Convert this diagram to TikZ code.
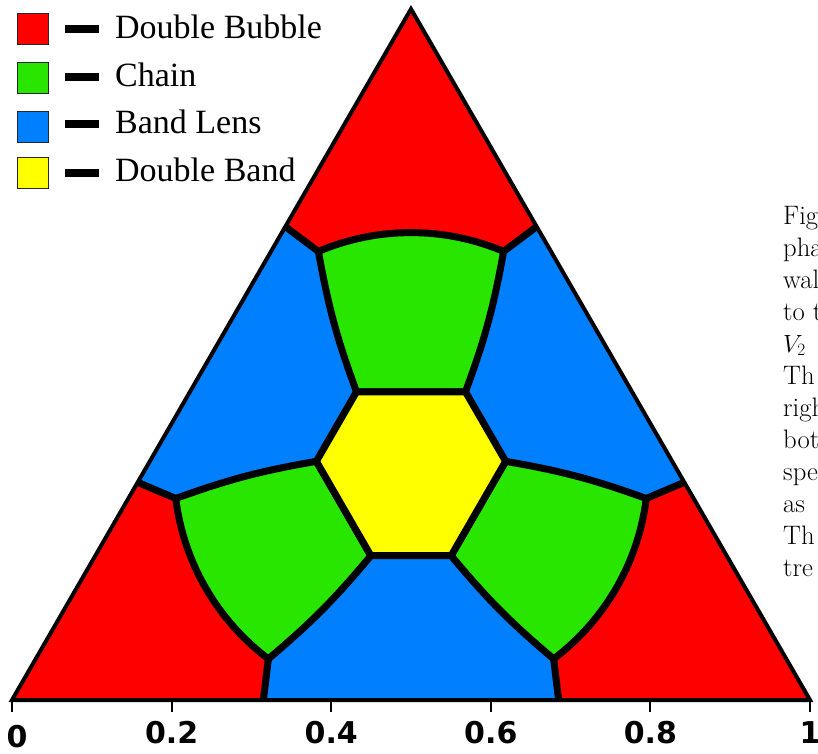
\documentclass[tikz,border=0pt]{standalone}
\usepackage{fontspec}
\usepackage{tikz}
\usetikzlibrary{calc}
\newfontfamily\legendfont{Liberation Serif}
\newfontfamily\axisfont{DejaVu Sans}
\definecolor{dbred}{RGB}{255,0,0}
\definecolor{chgreen}{RGB}{40,230,0}
\definecolor{blblue}{RGB}{0,128,255}
\definecolor{dbyellow}{RGB}{255,255,0}
\definecolor{keyedge}{RGB}{40,40,40}
\tikzset{
  wall/.style={line width=7pt, line join=round, line cap=round, color=black},
  triframe/.style={line width=4pt, line join=miter, color=black},
  legbox/.style={rectangle, draw=keyedge, fill=#1, minimum size=31pt,
    inner sep=0pt, line width=1.5pt},
  legdash/.style={line width=8pt, color=black},
  legtext/.style={anchor=base west, inner sep=0pt,
    font=\legendfont\fontsize{34}{40}\selectfont},
  axistick/.style={line width=2pt, color=black},
  ticklabel/.style={inner sep=0pt, font=\axisfont\bfseries\fontsize{30}{35}\selectfont},
  captext/.style={anchor=base west, align=left, inner sep=0pt,
    font=\fontsize{26.7}{32}\selectfont}
}

\begin{document}
\begin{tikzpicture}[x=1pt, y=1pt]
  \useasboundingbox (-411,-283.4) rectangle (407,469.6);
  \clip (-411,-283.4) rectangle (407,469.6);
  % Triangle and wall ends on its sides
  \coordinate (top) at (0,460.6);
  \coordinate (bl) at (-399,-230.4);
  \coordinate (br) at (399,-230.4);
  \coordinate (eL1) at ($(top)!0.315!(bl)$);
  \coordinate (eL2) at ($(bl)!0.315!(top)$);
  \coordinate (eB1) at ($(bl)!0.315!(br)$);
  \coordinate (eB2) at ($(br)!0.315!(bl)$);
  \coordinate (eR1) at ($(br)!0.315!(top)$);
  \coordinate (eR2) at ($(top)!0.315!(br)$);
  % Double Bubble corners
  \fill[dbred] (top) -- (bl) -- (br) -- cycle;
  % Band Lens
  \fill[blblue] (eR2) -- (67:237) to[bend left=5] (55:95) -- (5:95)
    to[bend left=5] (353:237) -- (eR1) -- cycle;
  \fill[blblue] (eB2) -- (307:237) to[bend left=5] (295:95) -- (245:95)
    to[bend left=5] (233:237) -- (eB1) -- cycle;
  \fill[blblue] (eL2) -- (187:237) to[bend left=5] (175:95) -- (125:95)
    to[bend left=5] (113:237) -- (eL1) -- cycle;
  % Chain
  \filldraw[wall, fill=chgreen] (55:95) -- (125:95) to[bend left=5] (113:237)
    arc[start angle=113, end angle=67, radius=237] to[bend left=5] (55:95) -- cycle;
  \filldraw[wall, fill=chgreen] (175:95) -- (245:95) to[bend left=5] (233:237)
    arc[start angle=233, end angle=187, radius=237] to[bend left=5] (175:95) -- cycle;
  \filldraw[wall, fill=chgreen] (295:95) -- (5:95) to[bend left=5] (353:237)
    arc[start angle=-7, end angle=-53, radius=237] to[bend left=5] (295:95) -- cycle;
  % Double Band
  \filldraw[wall, fill=dbyellow] (5:95) -- (55:95) -- (125:95) -- (175:95)
    -- (245:95) -- (295:95) -- cycle;
  % Walls between corners and lenses
  \begin{scope}
    \clip (top) -- (bl) -- (br) -- cycle;
    \draw[wall] (eR2) -- (67:237);
    \draw[wall] (eR1) -- (353:237);
    \draw[wall] (eB2) -- (307:237);
    \draw[wall] (eB1) -- (233:237);
    \draw[wall] (eL2) -- (187:237);
    \draw[wall] (eL1) -- (113:237);
  \end{scope}
  \draw[triframe] (top) -- (bl) -- (br) -- cycle;
  % Axis
  \draw[axistick] (bl) -- ++(0,-12);
  \draw[axistick] (-239.4,-230.4) -- ++(0,-12);
  \draw[axistick] (-79.8,-230.4) -- ++(0,-12);
  \draw[axistick] (79.8,-230.4) -- ++(0,-12);
  \draw[axistick] (239.4,-230.4) -- ++(0,-12);
  \draw[axistick] (br) -- ++(0,-12);
  \node[ticklabel] (lab0) at (-394,-267.4) {0};
  \node[ticklabel] (lab2) at (-239.4,-263.4) {0.2};
  \node[ticklabel] (lab4) at (-79.8,-263.4) {0.4};
  \node[ticklabel] (lab6) at (79.8,-263.4) {0.6};
  \node[ticklabel] (lab8) at (239.4,-263.4) {0.8};
  \node[ticklabel] (lab10) at (399,-263.4) {1};
  % Legend
  \node[legbox=dbred] (keyDB) at (-378,440.6) {};
  \node[legbox=chgreen] (keyCh) at (-378,391.6) {};
  \node[legbox=blblue] (keyBL) at (-378,342.6) {};
  \node[legbox=dbyellow] (keyDBd) at (-378,296.6) {};
  \draw[legdash] (-346,440.4) -- (-312,440.4);
  \draw[legdash] (-346,392.1) -- (-312,392.1);
  \draw[legdash] (-346,345.4) -- (-312,345.4);
  \draw[legdash] (-346,297.1) -- (-312,297.1);
  \node[legtext] (txtDB) at (-296,431.1) {Double Bubble};
  \node[legtext] (txtCh) at (-296,382.6) {Chain};
  \node[legtext] (txtBL) at (-296,335.6) {Band Lens};
  \node[legtext] (txtDBd) at (-296,288.1) {Double Band};
  % Caption, cut by the page edge (base = last line)
  \node[captext] (capt) at (372,-106.4) {Fig\\pha\\wal\\to t\\$V_2$\\Th\\righ\\bot\\spe\\as\\Th\\tre};
\end{tikzpicture}
\end{document}
